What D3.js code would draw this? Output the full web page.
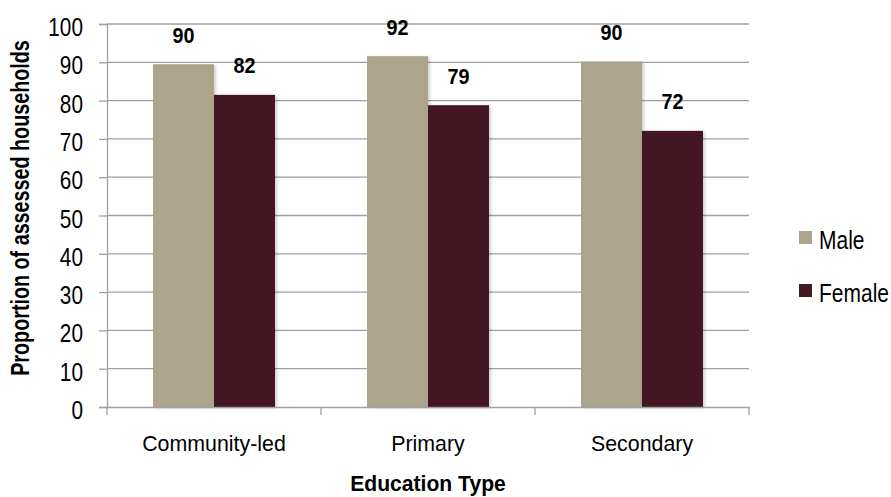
<!DOCTYPE html>
<html>
<head>
<meta charset="utf-8">
<script src="https://cdn.jsdelivr.net/npm/d3@7"></script>
<style>
  body { margin: 0; background: #fff; }
  text { font-family: "Liberation Sans", Arial, sans-serif; fill: #000; }
</style>
</head>
<body>
<div id="chart"></div>
<script>
// Daten
const kategorien = ["Community-led", "Primary", "Secondary"];
const serien = ["Male", "Female"];
const maleWerte = [89.5, 91.6, 90.2];
const femaleWerte = [81.5, 78.8, 72.1];
const yTicks = [0, 10, 20, 30, 40, 50, 60, 70, 80, 90, 100];
const farben = ["#aca58c", "#431922"];

const width = 891, height = 497;
const margin = { top: 24, right: 142, bottom: 90, left: 107 };
const innerW = width - margin.left - margin.right;
const innerH = height - margin.top - margin.bottom;

// Schrift etwas schmaler machen (Ersatz für Arial Narrow)
function schmal(sel, sx) {
  sel.each(function () {
    const t = d3.select(this);
    const x = +t.attr("x") || 0, y = +t.attr("y") || 0;
    const alt = t.attr("transform") || "";
    t.attr("x", 0).attr("y", 0)
      .attr("transform", `${alt} translate(${x},${y}) scale(${sx},1)`);
  });
}

const svg = d3.select("#chart").append("svg")
  .attr("width", width).attr("height", height);

// leichter Schatten rechts an den Balken
const defs = svg.append("defs");
const f = defs.append("filter").attr("id", "schatten")
  .attr("x", "-10%").attr("y", "-10%").attr("width", "130%").attr("height", "120%");
f.append("feDropShadow").attr("dx", 2).attr("dy", 1).attr("stdDeviation", 1.5)
  .attr("flood-color", "#000").attr("flood-opacity", 0.18);

const g = svg.append("g").attr("transform", `translate(${margin.left},${margin.top})`);

const x = d3.scaleBand().domain(kategorien).range([0, innerW]);
const xInner = d3.scaleBand().domain(serien).range([x.bandwidth() * 0.215, x.bandwidth() * 0.785]);
const y = d3.scaleLinear().domain([0, 100]).range([innerH, 0]);

// Gitterlinien
g.append("g").selectAll("line").data(yTicks.filter(t => t > 0)).join("line")
  .attr("x1", 0).attr("x2", innerW)
  .attr("y1", d => y(d)).attr("y2", d => y(d))
  .attr("stroke", "#a0a0a0").attr("stroke-width", 1.3);

// Y-Achse
const yAxis = g.append("g")
  .call(d3.axisLeft(y).tickValues(yTicks).tickSize(8).tickPadding(21).tickFormat(d3.format("d")));
yAxis.select(".domain").attr("stroke", "#a0a0a0").attr("stroke-width", 1.3);
yAxis.selectAll(".tick line").attr("stroke", "#a0a0a0").attr("stroke-width", 1.3);
yAxis.selectAll(".tick text").style("font-size", "25px").attr("fill", "#000")
  .attr("dy", "0.46em")
  .attr("transform", "scale(0.83,1)");

// Balken
const daten = kategorien.map((k, i) => ({ kategorie: k, werte: [maleWerte[i], femaleWerte[i]] }));
const gruppen = g.selectAll(".gruppe").data(daten).join("g")
  .attr("transform", d => `translate(${x(d.kategorie)},0)`);

gruppen.selectAll("rect").data(d => d.werte.map((v, i) => ({ serie: serien[i], wert: v, i })))
  .join("rect")
  .attr("x", d => xInner(d.serie))
  .attr("y", d => y(d.wert))
  .attr("width", xInner.bandwidth())
  .attr("height", d => innerH - y(d.wert))
  .attr("fill", d => farben[d.i])
  .attr("filter", "url(#schatten)");

const werte = gruppen.selectAll(".wert").data(d => d.werte.map((v, i) => ({ serie: serien[i], wert: v })))
  .join("text")
  .attr("class", "wert")
  .attr("x", d => xInner(d.serie) + xInner.bandwidth() / 2)
  .attr("y", d => y(d.wert) - 21.5)
  .attr("text-anchor", "middle")
  .style("font-size", "22px").style("font-weight", "bold")
  .text(d => Math.round(d.wert));
schmal(werte, 0.9);

// X-Achse
const xAxis = g.append("g").attr("transform", `translate(0,${innerH})`)
  .call(d3.axisBottom(x).tickSize(0));
xAxis.select(".domain").attr("stroke", "#a0a0a0").attr("stroke-width", 1.3);
xAxis.selectAll(".tick text").style("font-size", "23px").attr("fill", "#000")
  .attr("y", 44).attr("dy", 0)
  .attr("transform", "scale(0.93,1)");
// Trennstriche zwischen Kategorien
xAxis.selectAll(".trenner").data(d3.range(kategorien.length + 1)).join("line")
  .attr("x1", i => i * x.step()).attr("x2", i => i * x.step())
  .attr("y1", 0).attr("y2", 8)
  .attr("stroke", "#a0a0a0").attr("stroke-width", 1.3);

// Achsentitel
svg.append("text")
  .attr("transform", "translate(29,208) rotate(-90) scale(0.79,1)")
  .attr("text-anchor", "middle")
  .style("font-size", "25px").style("font-weight", "bold")
  .text("Proportion of assessed households");

const xTitel = svg.append("text")
  .attr("x", margin.left + innerW / 2).attr("y", 491)
  .attr("text-anchor", "middle")
  .style("font-size", "22px").style("font-weight", "bold")
  .text("Education Type");
schmal(xTitel, 0.96);

// Legende
const legende = svg.append("g").attr("transform", "translate(799,231)");
serien.forEach((s, i) => {
  const zeile = legende.append("g").attr("transform", `translate(0,${i * 53})`);
  zeile.append("rect").attr("width", 13).attr("height", 13).attr("fill", farben[i]);
  const t = zeile.append("text").attr("x", 20).attr("y", 17.5).style("font-size", "25px").text(s);
  schmal(t, 0.84);
});
</script>
</body>
</html>
